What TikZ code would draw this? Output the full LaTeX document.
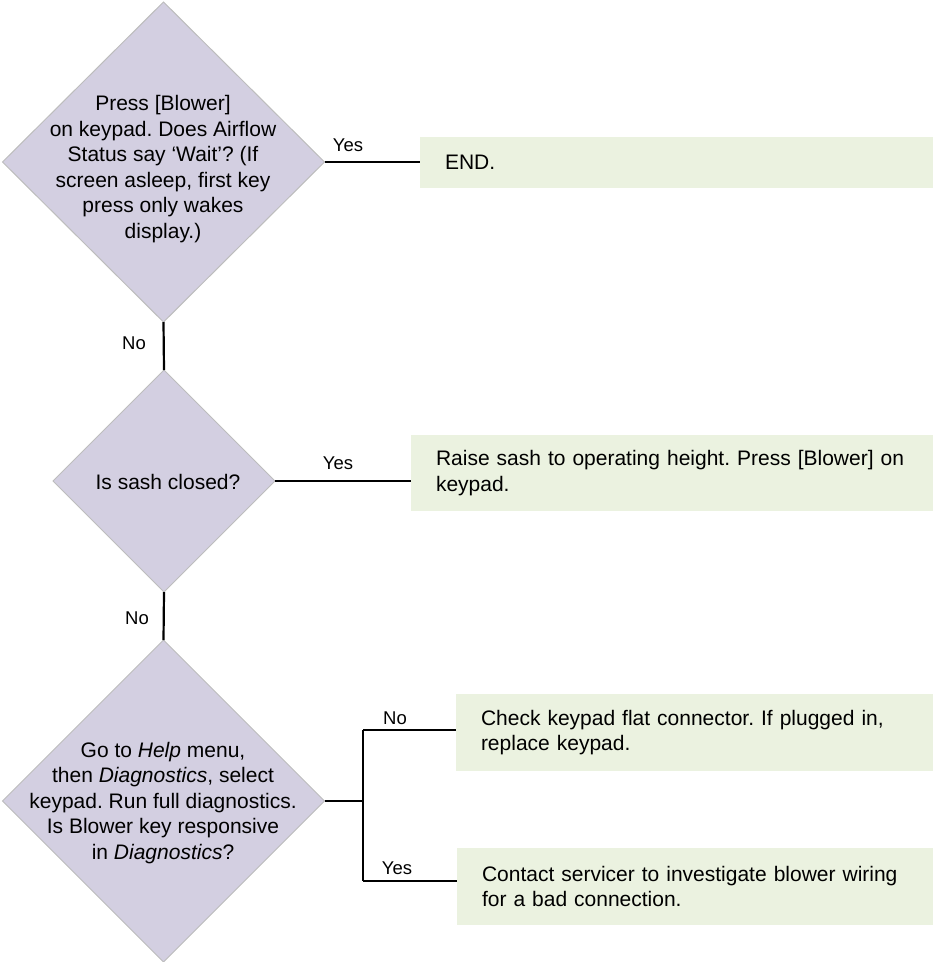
\documentclass[tikz,border=0pt]{standalone}
\usepackage{fontspec}
\setmainfont{Liberation Sans}
\frenchspacing
\usetikzlibrary{shapes.geometric,calc}
\definecolor{diafill}{HTML}{D3CFE1}
\definecolor{diaedge}{HTML}{BDBDBD}
\definecolor{boxfill}{HTML}{EBF2E0}
\tikzset{
  dia/.style={shape=diamond, fill=diafill, draw=diaedge, line width=1pt, inner sep=0pt, outer sep=0pt},
  dtext/.style={align=center, font=\fontsize{21}{25.5}\selectfont, inner sep=0pt},
  actbox/.style={shape=rectangle, fill=boxfill, draw=none, anchor=west, inner xsep=25pt, inner ysep=0pt,
    outer sep=0pt, align=left, font=\fontsize{21}{25.5}\selectfont},
  conn/.style={line width=2.2pt, black},
  lbl/.style={font=\fontsize{18.5}{22}\selectfont, inner sep=0pt}
}
\begin{document}
\begin{tikzpicture}[x=1pt,y=-1pt]
\useasboundingbox (0,0) rectangle (933,962);
% decisions
\node[dia, minimum width=322pt, minimum height=320pt] (d1) at (163.5,162) {};
\node[dtext] (t1) at (163,169) {Press [Blower]\\on keypad. Does Airflow\\Status say ‘Wait’? (If\\screen asleep, first key\\press only wakes\\display.)};
\node[dia, minimum width=222pt, minimum height=222pt] (d2) at (164,481) {};
\node[dtext] (t2) at (168,482) {Is sash closed?};
\node[dia, minimum width=322pt, minimum height=322pt] (d3) at (163.5,801) {};
\node[dtext] (t3) at (163,803) {Go to \textit{Help} menu,\\then \textit{Diagnostics}, select\\keypad. Run full diagnostics.\\Is Blower key responsive\\in \textit{Diagnostics}?};
% actions
\node[actbox, minimum width=513pt, minimum height=51pt, text width=463pt] (b1) at (420,162.5) {END.};
\node[actbox, minimum width=522pt, minimum height=76pt, text width=472pt] (b2) at (411,473) {Raise sash to operating height. Press [Blower] on\\keypad.};
\node[actbox, minimum width=477pt, minimum height=77pt, text width=427pt] (b3) at (456,732.5) {Check keypad flat connector. If plugged in,\\replace keypad.};
\node[actbox, minimum width=476pt, minimum height=77pt, text width=426pt] (b4) at (457,886.5) {Contact servicer to investigate blower wiring\\for a bad connection.};
% connectors
\draw[conn] (d1.east) -- (d1.east -| b1.west);
\draw[conn] (d1.south) -- (d2.north);
\draw[conn] (d2.east) -- (d2.east -| b2.west);
\draw[conn] (d2.south) -- (d3.north);
\coordinate (j0) at (363,801);
\coordinate (j1) at (363,730);
\coordinate (j2) at (363,881);
\draw[conn] (d3.east) -- (j0);
\draw[conn] (j1) -- (j2);
\draw[conn] (j1) -- (j1 -| b3.west);
\draw[conn] (j2) -- (j2 -| b4.west);
% labels
\node[lbl] (l1) at (348,145) {Yes};
\node[lbl] (l2) at (134,343) {No};
\node[lbl] (l3) at (338,463) {Yes};
\node[lbl] (l4) at (137,618) {No};
\node[lbl] (l5) at (395,718) {No};
\node[lbl] (l6) at (397,868) {Yes};
\end{tikzpicture}
\end{document}
